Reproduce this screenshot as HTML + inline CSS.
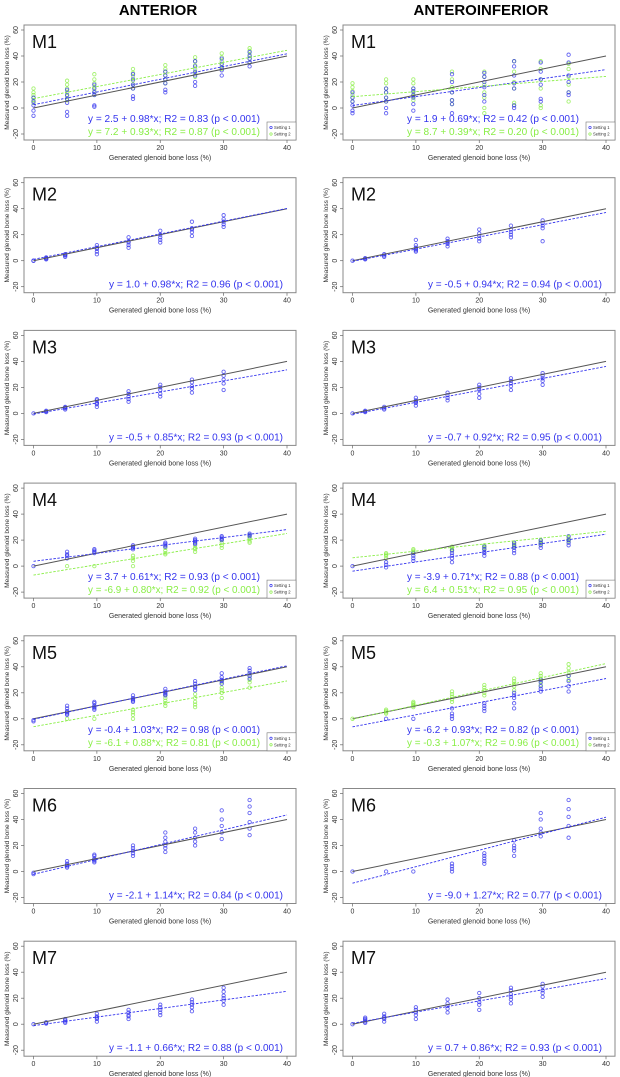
<!DOCTYPE html>
<html><head><meta charset="utf-8">
<style>
html,body{margin:0;padding:0;background:#fff;}
svg{display:block;font-family:"Liberation Sans",Arial,sans-serif;}
</style></head>
<body>
<svg id="fig" width="620" height="1077" viewBox="0 0 620 1077" xmlns="http://www.w3.org/2000/svg">
<text x="158" y="15" font-size="15" font-weight="bold" text-anchor="middle">ANTERIOR</text>
<text x="481" y="15" font-size="15" font-weight="bold" text-anchor="middle">ANTEROINFERIOR</text>
</svg>
<script>
const xsA = [0,5.3,9.6,15.7,20.8,25.5,29.7,34.1];
const xsB = [0,2,5,10,15,20,25,30];
const xTicks = [0,10,20,30,40];
const yTicks = [-20,0,20,40,60];
const panelLabels = ["M1","M2","M3","M4","M5","M6","M7"];

// Anterior (left column)
const L_xs = [xsA,xsB,xsB,xsA,xsA,xsA,xsB];
const L_s1 = [
 [[-6,-2,2,5,8],[-6,-3,4,7,10,14],[1,2,10,12,15,18],[7,9,15,18,22,26],[12,14,19,22,25,28],[17,20,25,28,32,36],[25,29,31,34,38],[32,35,38,40,43]],
 [[0,0],[1,1.5,2,2.5],[3,4,4.5,5],[5,7,9,10,12],[10,12,14,15,18],[14,16,18,20,23],[19,22,24,25,30],[26,28,30,32,35]],
 [[0],[1,1.5,2],[3,4,4.5,5],[5,7,8,10,11],[9,11,13,15,17],[13,15,18,20,22],[16,19,21,24,26],[18,23,26,29,32]],
 [[0],[6,8,9,11],[10,11,12,13],[13,14,15,16],[15,16,17,18],[17,18,19,20,21],[20,21,22,23],[23,24,25]],
 [[-1,-2],[3,4,5,6,8,10],[7,8,9,10,12,13],[13,14,15,16,18],[18,19,20,21,23],[22,24,25,27,29],[27,29,30,32,35],[31,33,35,37,39]],
 [[-1,-2],[3,4,5,6,8],[7,8,9,10,12,13],[12,14,16,18,20],[15,18,20,23,26,30],[20,23,26,30,33],[25,30,35,40,47],[28,33,38,45,50,55]],
 [[0],[0.5,1,1.5],[1,2,3,4],[2,4,5,6,8],[4,6,7,9,11],[7,9,11,13,15],[10,13,15,17,19],[15,18,20,22,25,28]]
];
const L_s2 = [
 [[4,6,8,10,12,15],[6,9,12,15,18,21],[10,13,16,19,22,26],[15,18,21,24,27,30],[19,22,25,28,30,33],[24,27,30,33,36,39],[30,33,36,39,42],[35,38,41,44,46]],
 null,null,
 [[],[0],[0],[0,4,6,8],[9,10,12,14],[11,13,14,16],[14,16,18,20],[18,19,21,22,24]],
 [[],[0],[0],[0,3,5,7],[10,12,14,16,18],[9,11,13,16,19],[16,20,22,24,28],[24,28,30,33,35]],
 null,null
];
const L_int1 = [2.5,1.0,-0.5,3.7,-0.4,-2.1,-1.1];
const L_slope1 = [0.98,0.98,0.85,0.61,1.03,1.14,0.66];
const L_r21 = [0.83,0.96,0.93,0.93,0.98,0.84,0.88];
const L_int2 = [7.2,null,null,-6.9,-6.1,null,null];
const L_slope2 = [0.93,null,null,0.80,0.88,null,null];
const L_r22 = [0.87,null,null,0.92,0.81,null,null];

// Anteroinferior (right column)
const R_xs = [xsA,xsB,xsB,xsA,xsA,xsA,xsB];
const R_s1 = [
 [[-4,-2,2,5,8,12],[-4,0,5,8,12,15],[-2,3,8,10,13,15],[-4,3,6,12,20,26],[5,10,16,20,24,27],[0,2,15,19,25,32,36],[5,7,18,22,28,35],[10,12,20,25,35,41]],
 [[0],[1,1.5,2],[3,4,5],[7,8,9,10,12,16],[11,13,14,15,17],[15,17,19,21,24],[18,20,22,24,27],[15,25,27,29,31]],
 [[0],[1,1.5,2],[3,4,5],[6,8,9,10,12],[10,12,14,16],[12,15,18,20,22],[18,21,23,25,27],[22,25,27,29,31]],
 [[0],[-1,1,3],[4,6,8,10],[3,6,8,10,12],[8,10,11,13,15],[10,12,14,16,18],[14,16,18,20],[16,18,20,23]],
 [[],[0],[0],[0,2,4,8],[6,8,10,12],[8,12,16,18,20],[21,23,25,28,30],[21,25,29,33]],
 [[0],[0],[0],[0,2,4,6],[6,8,10,12,14],[12,16,18,20,24],[27,30,33,40,45],[26,35,42,48,55]],
 [[0],[1,2,3,4,5],[2,4,5,6,8],[4,7,9,11,13],[9,12,14,16,19],[11,15,17,20,24],[16,19,21,23,26,28],[21,24,26,29,31]]
];
const R_s2 = [
 [[5,8,10,13,16,19],[5,8,12,15,19,22],[6,9,12,15,19,22],[3,6,12,16,22,28],[-4,0,8,12,18,24,28],[2,4,15,20,28,36],[0,2,15,22,30,36],[5,12,18,24,30,34]],
 null,null,
 [[],[6,8,9,10],[10,11,12,13],[12,13,14,15],[13,14,15,16],[15,16,17,18],[17,18,19,20],[19,20,21,22]],
 [[0],[4,5,6,7],[9,10,11,12,13],[13,15,17,19,21],[18,20,22,24,26],[22,25,27,29,31],[26,29,31,33,35],[30,33,36,39,42]],
 null,null
];
const R_int1 = [1.9,-0.5,-0.7,-3.9,-6.2,-9.0,0.7];
const R_slope1 = [0.69,0.94,0.92,0.71,0.93,1.27,0.86];
const R_r21 = [0.42,0.94,0.95,0.88,0.82,0.77,0.93];
const R_int2 = [8.7,null,null,6.4,-0.3,null,null];
const R_slope2 = [0.39,null,null,0.51,1.07,null,null];
const R_r22 = [0.20,null,null,0.95,0.96,null,null];

const NS = "http://www.w3.org/2000/svg";
const svg = document.getElementById('fig');
const BLUE = "#3333ee", GREEN = "#88ee44";
function mk(tag, attrs, parent){
  const e = document.createElementNS(NS, tag);
  for (const k in attrs) e.setAttribute(k, attrs[k]);
  (parent||svg).appendChild(e); return e;
}
function fmt(v, d){ return v.toFixed(d); }
function eqText(a,b,r){ return "y = " + fmt(a,1) + " + " + fmt(b,2) + "*x; R2 = " + fmt(r,2) + " (p < 0.001)"; }

function drawPanel(col, i, xs, s1, s2, a1, b1, r1, a2, b2, r2){
  const boxL = col===0 ? 24 : 343, boxR = boxL + 272;
  const top = 25 + i*152.7, bottom = top + 115;
  const xPx = v => (boxL+9.5) + v*(boxR-9 - (boxL+9.5))/40;
  const yPx = v => top + 5 + (60 - v)*1.3;
  const g = mk('g', {});
  
  
  mk('rect', {x:boxL, y:top, width:boxR-boxL, height:bottom-top, fill:'none', stroke:'#888', 'stroke-width':1}, g);
  // y ticks
  yTicks.forEach(t=>{
    const y = yPx(t);
    mk('line',{x1:boxL-3,x2:boxL,y1:y,y2:y,stroke:'#666','stroke-width':0.7},g);
    const tx = mk('text',{x:boxL-6,y:y,'font-size':7,fill:'#333','text-anchor':'middle',transform:`rotate(-90 ${boxL-6} ${y})`},g);
    tx.textContent = t;
  });
  xTicks.forEach(t=>{
    const x = xPx(t);
    mk('line',{x1:x,x2:x,y1:bottom,y2:bottom+3,stroke:'#666','stroke-width':0.7},g);
    const tx = mk('text',{x:x,y:bottom+10,'font-size':7,fill:'#333','text-anchor':'middle'},g);
    tx.textContent = t;
  });
  const yl = mk('text',{x:boxL-15,y:(top+bottom)/2,'font-size':6.6,fill:'#333','text-anchor':'middle',transform:`rotate(-90 ${boxL-15} ${(top+bottom)/2})`},g);
  
  
  yl.textContent = "Measured glenoid bone loss (%)";
  const xl = mk('text',{x:(boxL+boxR)/2,y:bottom+20,'font-size':7,fill:'#333','text-anchor':'middle'},g);
  
  
  xl.textContent = "Generated glenoid bone loss (%)";
  const ml = mk('text',{x:boxL+8,y:top+23,'font-size':18,fill:'#111'},g);
  
  
  ml.textContent = panelLabels[i];
  // points
  function pts(series, color, name){
    if(!series) return;
    series.forEach((vals, k)=>{
      vals.forEach(v=>{
        const c = mk('circle',{cx:xPx(xs[k]),cy:yPx(v),r:1.7,fill:'none',stroke:color,'stroke-width':0.9,'stroke-opacity':0.75},g);
        
        
      });
    });
  }
  if (s2) pts(s2, GREEN, 'point-setting-2');
  pts(s1, BLUE, 'point-setting-1');
  // identity line
  const id = mk('line',{x1:xPx(0),y1:yPx(0),x2:xPx(40),y2:yPx(40),stroke:'#555','stroke-width':1},g);
  
  
  const f1 = mk('line',{x1:xPx(0),y1:yPx(a1),x2:xPx(40),y2:yPx(a1+b1*40),stroke:BLUE,'stroke-width':0.9,'stroke-dasharray':'2.5,1.5'},g);
  
  
  if (a2!==null){
    const f2 = mk('line',{x1:xPx(0),y1:yPx(a2),x2:xPx(40),y2:yPx(a2+b2*40),stroke:GREEN,'stroke-width':0.9,'stroke-dasharray':'2.5,1.5'},g);
    
    
  }
  // equations
  if (a2===null){
    const t = mk('text',{x:boxR-13,y:bottom-5,'font-size':10.5,fill:BLUE,'text-anchor':'end',textLength:174,lengthAdjust:'spacingAndGlyphs'},g);
    
    
    t.textContent = eqText(a1,b1,r1);
  } else {
    const t1 = mk('text',{x:boxR-36,y:bottom-18,'font-size':10.5,fill:BLUE,'text-anchor':'end',textLength:172,lengthAdjust:'spacingAndGlyphs'},g);
    
    
    t1.textContent = eqText(a1,b1,r1);
    const t2 = mk('text',{x:boxR-36,y:bottom-5,'font-size':10.5,fill:GREEN,'text-anchor':'end',textLength:172,lengthAdjust:'spacingAndGlyphs'},g);
    
    
    t2.textContent = eqText(a2,b2,r2);
    const lg = mk('g',{},g);
    
    
    mk('rect',{x:boxR-29,y:bottom-18,width:29,height:18,fill:'#fff',stroke:'#777','stroke-width':0.6},lg);
    mk('circle',{cx:boxR-25,cy:bottom-12.5,r:1.2,fill:'none',stroke:BLUE,'stroke-width':0.7},lg);
    mk('circle',{cx:boxR-25,cy:bottom-6,r:1.2,fill:'none',stroke:GREEN,'stroke-width':0.7},lg);
    const l1 = mk('text',{x:boxR-22,y:bottom-11,'font-size':4.2,fill:'#333'},lg); l1.textContent="Setting 1";
    const l2 = mk('text',{x:boxR-22,y:bottom-4.5,'font-size':4.2,fill:'#333'},lg); l2.textContent="Setting 2";
  }
}
for (let i=0;i<7;i++){
  drawPanel(0,i,L_xs[i],L_s1[i],L_s2[i],L_int1[i],L_slope1[i],L_r21[i],L_int2[i],L_slope2[i],L_r22[i]);
  drawPanel(1,i,R_xs[i],R_s1[i],R_s2[i],R_int1[i],R_slope1[i],R_r21[i],R_int2[i],R_slope2[i],R_r22[i]);
}
</script>
</body></html>
